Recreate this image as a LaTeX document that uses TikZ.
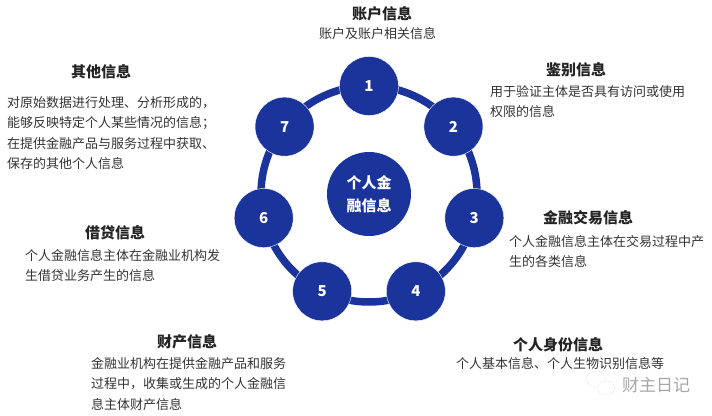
\documentclass[tikz,border=0pt]{standalone}
\usepackage{fontspec}
\setmainfont{Noto Sans CJK SC}
\usetikzlibrary{backgrounds, calc, shapes.geometric}
\definecolor{sblue}{HTML}{1B349B}
\definecolor{stext}{HTML}{333333}
\begin{document}
\begin{tikzpicture}[
    x=1pt, y=-1pt,
    NUM/.style={circle, draw=white, thin, fill=sblue, text=white, minimum size=59pt, inner sep=0pt, font=\fontsize{15}{15}\selectfont\bfseries},
    HUB/.style={circle, fill=sblue, text=white, minimum size=84pt, inner sep=0pt, align=center, font=\fontsize{15}{23.5}\selectfont\bfseries},
    HEAD/.style={text=stext!70!black, inner sep=0pt, font=\fontsize{15}{15}\selectfont\bfseries},
    BODY/.style={text=stext, inner sep=0pt, anchor=north west, align=left, font=\fontsize{13}{20.5}\selectfont},
    RING/.style={draw=sblue, line width=7.5pt},
    BUBBLE/.style={ellipse, draw=black!25, densely dotted, inner sep=0pt}
    ]
        \useasboundingbox (0,0) rectangle (712,415);
        \node[HUB] (hub) at (369,194) {个人金\\融信息};
        % seven numbered circles round the hub
        \foreach \i in {1,...,7} {
            \node[NUM] (n\i) at ($(hub)+({108*sin((\i-1)*360/7)},{-108*cos((\i-1)*360/7)})$) {\i};
        }
        \begin{scope}[on background layer]
            \foreach \i/\j in {1/2,2/3,3/4,4/5,5/6,6/7,7/1} {
                \draw[RING] (n\i.center) to[bend left=25.7, looseness=0.9] (n\j.center);
            }
        \end{scope}
        \node[HEAD] (h1) at (382,14) {账户信息};
        \node[BODY] (b1) at (319,27) {账户及账户相关信息};
        \node[HEAD] (h2) at (576,70) {鉴别信息};
        \node[BODY] (b2) at (490,85) {用于验证主体是否具有访问或使用\\权限的信息};
        \node[HEAD] (h3) at (588,218) {金融交易信息};
        \node[BODY] (b3) at (509,235) {个人金融信息主体在交易过程中产\\生的各类信息};
        \node[HEAD] (h4) at (558,345) {个人身份信息};
        \node[BODY] (b4) at (456,357) {个人基本信息、个人生物识别信息等};
        \node[HEAD] (h5) at (187,342) {财产信息};
        \node[BODY] (b5) at (91,357) {金融业机构在提供金融产品和服务\\过程中，收集或生成的个人金融信\\息主体财产信息};
        \node[HEAD] (h6) at (115,233) {借贷信息};
        \node[BODY] (b6) at (25,249) {个人金融信息主体在金融业机构发\\生借贷业务产生的信息};
        \node[HEAD] (h7) at (101,72) {其他信息};
        \node[BODY] (b7) at (7,96) {对原始数据进行处理、分析形成的，\\能够反映特定个人某些情况的信息；\\在提供金融产品与服务过程中获取、\\保存的其他个人信息};
        \node[inner sep=0pt, text=black!35, font=\fontsize{17}{17}\selectfont] (mark) at (656,385) {财主日记};
        \node[BUBBLE, minimum width=19pt, minimum height=16pt] (icon1) at (596,379) {};
        \node[BUBBLE, fill=white, minimum width=17pt, minimum height=14pt] (icon2) at (606,388) {};
    \end{tikzpicture}
\end{document}
